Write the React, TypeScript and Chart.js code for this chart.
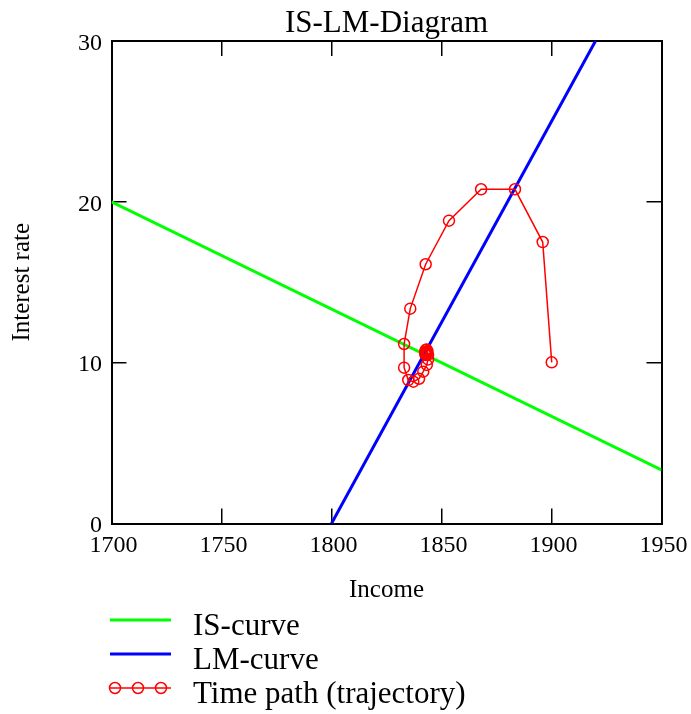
import { useEffect, useRef } from "react";
import { Chart, registerables } from "chart.js";

Chart.register(...registerables);

const FONT = "'Liberation Serif', 'Times New Roman', serif";

const chartTitle = "IS-LM-Diagram";
const xAxisTitle = "Income";
const yAxisTitle = "Interest rate";
const seriesLabels = ["IS-curve", "LM-curve", "Time path (trajectory)"];

const xTickValues = [1700, 1750, 1800, 1850, 1900, 1950];
const yTickValues = [0, 10, 20, 30];

const isIncome = [1700, 1950];
const isRate = [20, 3.33];

const lmIncome = [1800, 1920];
const lmRate = [0, 30];

const pathIncome = [
  1900.1, 1896.0, 1883.4, 1868.0, 1853.4, 1842.8, 1835.8, 1833.0, 1833.0, 1834.9,
  1837.2, 1839.8, 1841.7, 1843.3, 1843.9, 1843.9, 1843.6, 1843.2, 1842.8, 1842.6,
  1842.6, 1842.8, 1843.0, 1843.2, 1843.3, 1843.2, 1843.0,
];
const pathRate = [
  10.02, 17.5, 20.78, 20.78, 18.83, 16.12, 13.36, 11.16, 9.69, 8.92,
  8.82, 9.0, 9.44, 9.86, 10.2, 10.5, 10.72, 10.82, 10.78, 10.66,
  10.55, 10.48, 10.5, 10.56, 10.62, 10.66, 10.62,
];

const toPoints = (xs: number[], ys: number[]) => xs.map((x, i) => ({ x, y: ys[i] }));

const legendPlugin = {
  id: "customLegend",
  afterDraw(chart: any) {
    const ctx = chart.ctx as CanvasRenderingContext2D;
    const rows = [620, 654, 688];
    ctx.save();
    chart.data.datasets.forEach((ds: any, i: number) => {
      const y = rows[i];
      ctx.strokeStyle = ds.borderColor;
      ctx.lineWidth = i < 2 ? 3 : 1.5;
      ctx.beginPath();
      ctx.moveTo(110, y);
      ctx.lineTo(171, y);
      ctx.stroke();
      if (i === 2) {
        for (const cx of [115, 138, 161]) {
          ctx.beginPath();
          ctx.arc(cx, y, 5.5, 0, Math.PI * 2);
          ctx.stroke();
        }
      }
      ctx.fillStyle = "#000";
      ctx.font = `31px ${FONT}`;
      ctx.textBaseline = "middle";
      ctx.textAlign = "left";
      ctx.fillText(ds.label, 193, y + 6.5);
    });
    ctx.restore();
  },
};

export default function App() {
  const ref = useRef<HTMLCanvasElement>(null);

  useEffect(() => {
    if (!ref.current) return;
    const gridCommon = {
      display: true,
      drawOnChartArea: false,
      drawTicks: true,
      tickLength: -15,
      color: "#000",
      lineWidth: 1.5,
    };
    const borderCommon = { display: true, color: "#000", width: 2 };
    const plain = (v: any) => String(v);
    const chart = new Chart(ref.current, {
      type: "scatter",
      data: {
        datasets: [
          {
            label: seriesLabels[0],
            data: toPoints(isIncome, isRate),
            showLine: true,
            borderColor: "#00ff00",
            borderWidth: 3,
            pointRadius: 0,
            order: 3,
          },
          {
            label: seriesLabels[1],
            data: toPoints(lmIncome, lmRate),
            showLine: true,
            borderColor: "#0000ff",
            borderWidth: 3,
            pointRadius: 0,
            order: 2,
          },
          {
            label: seriesLabels[2],
            data: toPoints(pathIncome, pathRate),
            showLine: true,
            borderColor: "#ff0000",
            borderWidth: 1.5,
            pointRadius: 5.5,
            pointBorderWidth: 1.5,
            pointBorderColor: "#ff0000",
            pointBackgroundColor: "rgba(0,0,0,0)",
            order: 1,
          },
        ],
      },
      options: {
        responsive: false,
        animation: false,
        layout: { padding: { left: 0, right: 0, top: 0, bottom: 110.5 } },
        plugins: {
          legend: { display: false },
          title: { display: false },
          tooltip: { enabled: false },
        },
        scales: {
          x: {
            type: "linear",
            position: "bottom",
            min: 1700,
            max: 1950,
            afterBuildTicks: (s: any) => {
              s.ticks = xTickValues.map((v) => ({ value: v }));
            },
            afterFit: (s: any) => {
              s.height = 80;
            },
            ticks: {
              color: "#000",
              font: { family: FONT, size: 24, lineHeight: 3.06 },
              padding: 0,
              labelOffset: 2,
              maxRotation: 0,
              autoSkip: false,
              callback: plain,
            },
            grid: gridCommon,
            border: borderCommon,
            title: {
              display: true,
              text: xAxisTitle,
              color: "#000",
              font: { family: FONT, size: 25, lineHeight: 1 },
              padding: { top: 0, bottom: 1 },
            },
          },
          x2: {
            type: "linear",
            position: "top",
            min: 1700,
            max: 1950,
            afterBuildTicks: (s: any) => {
              s.ticks = xTickValues.map((v) => ({ value: v }));
            },
            afterFit: (s: any) => {
              s.height = 41;
            },
            ticks: { display: false },
            grid: gridCommon,
            border: borderCommon,
            title: {
              display: true,
              text: chartTitle,
              color: "#000",
              font: { family: FONT, size: 31, lineHeight: 1 },
              padding: { top: 8, bottom: 0 },
            },
          },
          y: {
            type: "linear",
            position: "left",
            min: 0,
            max: 30,
            afterBuildTicks: (s: any) => {
              s.ticks = yTickValues.map((v) => ({ value: v }));
            },
            afterFit: (s: any) => {
              s.width = 111.5;
            },
            ticks: {
              color: "#000",
              font: { family: FONT, size: 24, lineHeight: 1 },
              padding: 24.5,
              labelOffset: 2.5,
              callback: plain,
            },
            grid: gridCommon,
            border: borderCommon,
            title: {
              display: true,
              text: yAxisTitle,
              color: "#000",
              font: { family: FONT, size: 25, lineHeight: 1 },
              padding: { top: 9.5, bottom: 0 },
            },
          },
          y2: {
            type: "linear",
            position: "right",
            min: 0,
            max: 30,
            afterBuildTicks: (s: any) => {
              s.ticks = yTickValues.map((v) => ({ value: v }));
            },
            afterFit: (s: any) => {
              s.width = 29.5;
            },
            ticks: { display: false },
            grid: gridCommon,
            border: borderCommon,
          },
        },
      },
      plugins: [legendPlugin],
    } as any);
    return () => chart.destroy();
  }, []);

  return (
    <canvas
      ref={ref}
      width={691}
      height={714}
      style={{ position: "absolute", left: 0, top: 0, display: "block" }}
    />
  );
}
